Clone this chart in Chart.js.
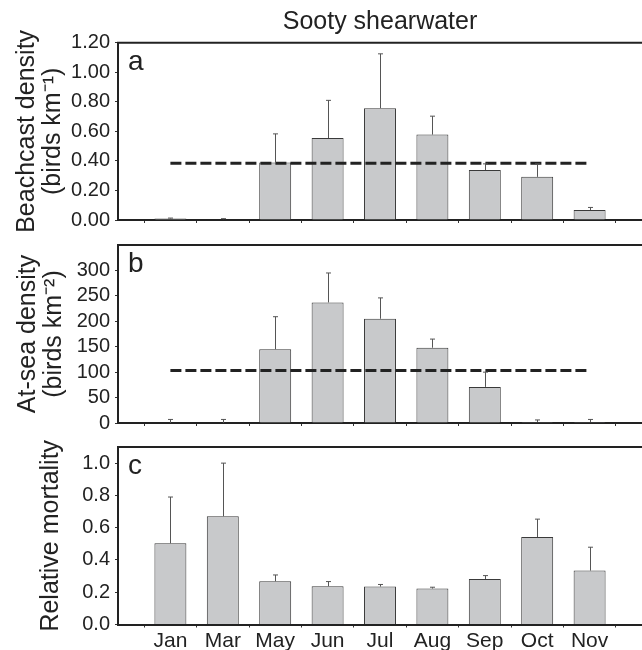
<!DOCTYPE html>
<html>
<head>
<meta charset="utf-8">
<script src="https://cdn.jsdelivr.net/npm/chart.js@4.4.1/dist/chart.umd.min.js"></script>
<style>
  body { margin: 0; background: #fff; }
  #wrap { position: relative; width: 642px; height: 650px; overflow: hidden; }
  canvas { position: absolute; left: 0; }
</style>
</head>
<body>
<div id="wrap">
  <canvas id="chartA" width="642" height="232" style="top:0px"></canvas>
  <canvas id="chartB" width="642" height="203" style="top:232px"></canvas>
  <canvas id="chartC" width="642" height="216" style="top:434px"></canvas>
</div>
<script>
const months = ['Jan', 'Mar', 'May', 'Jun', 'Jul', 'Aug', 'Sep', 'Oct', 'Nov'];

// a: beachcast density (birds km-1), bar + top of upper error bar
const beachcast = [0.01, 0.005, 0.39, 0.555, 0.757, 0.578, 0.338, 0.292, 0.067];
const beachcastErr = [0.013, 0.009, 0.583, 0.81, 1.125, 0.703, 0.38, 0.38, 0.085];
const beachcastMean = 0.384;
const beachcastTicks = [0, 0.2, 0.4, 0.6, 0.8, 1.0, 1.2];

// b: at-sea density (birds km-2)
const atSea = [0, 0, 145, 237, 205, 148, 71, 2, 2];
const atSeaErr = [7, 7, 209, 295, 246, 165, 100, 6, 7];
const atSeaMean = 103;
const atSeaTicks = [0, 50, 100, 150, 200, 250, 300];

// c: relative mortality
const mortality = [0.503, 0.671, 0.268, 0.237, 0.235, 0.223, 0.282, 0.542, 0.334];
const mortalityErr = [0.79, 1.0, 0.307, 0.266, 0.248, 0.231, 0.303, 0.653, 0.479];
const mortalityTicks = [0, 0.2, 0.4, 0.6, 0.8, 1.0];

const FONT = 'Liberation Sans, Arial, Helvetica, sans-serif';
const INK = '#222';

const toPoints = (vals) => vals.map((v, i) => ({ x: i + 1, y: v }));

// top border, panel letter and upper error whiskers
const panelPlugin = {
    id: 'panel',
    afterDatasetsDraw(chart, args, opts) {
        const ctx = chart.ctx;
        const area = chart.chartArea;
        const yScale = chart.scales.y;
        const meta = chart.getDatasetMeta(0);
        const err = chart.data.datasets[0].errorTop;

        ctx.save();
        ctx.strokeStyle = '#555';
        ctx.lineWidth = 1;
        meta.data.forEach((bar, i) => {
            const x = Math.round(bar.x) + 0.5;
            const yTop = yScale.getPixelForValue(err[i]);
            ctx.beginPath();
            ctx.moveTo(x, bar.y);
            ctx.lineTo(x, yTop);
            ctx.moveTo(x - 2.5, yTop);
            ctx.lineTo(x + 2.5, yTop);
            ctx.stroke();
        });

        ctx.strokeStyle = INK;
        ctx.lineWidth = 2;
        ctx.beginPath();
        ctx.moveTo(area.left - 1, area.top);
        ctx.lineTo(area.right, area.top);
        ctx.stroke();

        ctx.fillStyle = INK;
        ctx.font = '28px ' + FONT;
        ctx.textAlign = 'left';
        ctx.textBaseline = 'alphabetic';
        ctx.fillText(opts.letter, area.left + 10, area.top + 27);
        ctx.restore();
    }
};

const makeConfig = (p) => ({
    type: 'bar',
    data: {
        datasets: [{
            data: toPoints(p.values),
            errorTop: p.err,
            backgroundColor: '#c8c9cb',
            borderColor: '#3a3a3a',
            borderWidth: 1,
            barPercentage: 0.61,
            categoryPercentage: 1,
            order: 1
        }].concat(p.mean === undefined ? [] : [{
            type: 'line',
            data: [{ x: 1, y: p.mean }, { x: months.length, y: p.mean }],
            borderColor: INK,
            borderWidth: 3,
            borderDash: [11, 4],
            pointRadius: 0,
            fill: false,
            order: 0
        }])
    },
    options: {
        responsive: false,
        animation: false,
        layout: { padding: { top: p.padTop, left: 0, right: 0, bottom: 0 } },
        plugins: {
            legend: { display: false },
            tooltip: { enabled: false },
            title: p.title ? {
                display: true,
                text: p.title,
                fullSize: false,
                color: INK,
                font: { family: FONT, size: 25, weight: 'normal', lineHeight: 1.15 },
                padding: { top: 8, bottom: 6 }
            } : { display: false },
            panel: { letter: p.letter }
        },
        scales: {
            x: {
                type: 'linear',
                min: 0,
                max: 10,
                offset: false,
                afterBuildTicks: (scale) => {
                    scale.ticks = months.map((m, i) => ({ value: i + 1 }));
                },
                afterFit: (scale) => {
                    scale.height = p.xHeight;
                    scale.paddingLeft = 0;
                    scale.paddingRight = 0;
                },
                ticks: {
                    display: p.showMonths,
                    autoSkip: false,
                    maxRotation: 0,
                    padding: 1,
                    color: INK,
                    font: { family: FONT, size: 21 },
                    callback: (v) => months[v - 1]
                },
                grid: { display: true, drawOnChartArea: false, drawTicks: true, tickLength: 3, color: '#333' },
                border: { display: true, color: INK, width: 2 }
            },
            y: {
                min: 0,
                max: p.yMax,
                afterBuildTicks: (scale) => {
                    scale.ticks = p.yTicks.map(v => ({ value: v }));
                },
                afterFit: (scale) => {
                    scale.width = 118;
                    scale.paddingTop = 0;
                    scale.paddingBottom = 0;
                },
                ticks: {
                    padding: 5,
                    color: INK,
                    font: { family: FONT, size: 20 },
                    callback: (v) => v.toFixed(p.decimals)
                },
                grid: { display: true, drawOnChartArea: false, drawTicks: true, tickLength: 3, color: '#333' },
                border: { display: true, color: INK, width: 2 },
                title: {
                    display: true,
                    text: p.yTitle,
                    color: INK,
                    font: { family: FONT, size: 25, lineHeight: 1.05 },
                    padding: { top: p.yTitlePad, bottom: 0 }
                }
            }
        }
    },
    plugins: [panelPlugin]
});

const configA = makeConfig({
    values: beachcast, err: beachcastErr, mean: beachcastMean,
    title: 'Sooty shearwater', letter: 'a', padTop: 0, xHeight: 12, showMonths: false,
    yMax: 1.2, yTicks: beachcastTicks, decimals: 2,
    yTitle: ['Beachcast density', '(birds km\u207B\u00B9)'], yTitlePad: 14
});

const configB = makeConfig({
    values: atSea, err: atSeaErr, mean: atSeaMean,
    title: null, letter: 'b', padTop: 13, xHeight: 12, showMonths: false,
    yMax: 350, yTicks: atSeaTicks, decimals: 0,
    yTitle: ['At-sea density', '(birds km\u207B\u00B2)'], yTitlePad: 15
});

const configC = makeConfig({
    values: mortality, err: mortalityErr,
    title: null, letter: 'c', padTop: 13, xHeight: 25.5, showMonths: true,
    yMax: 1.1, yTicks: mortalityTicks, decimals: 1,
    yTitle: 'Relative mortality', yTitlePad: 38
});

const chartA = new Chart(document.getElementById('chartA'), configA);
const chartB = new Chart(document.getElementById('chartB'), configB);
const chartC = new Chart(document.getElementById('chartC'), configC);
</script>
</body>
</html>
